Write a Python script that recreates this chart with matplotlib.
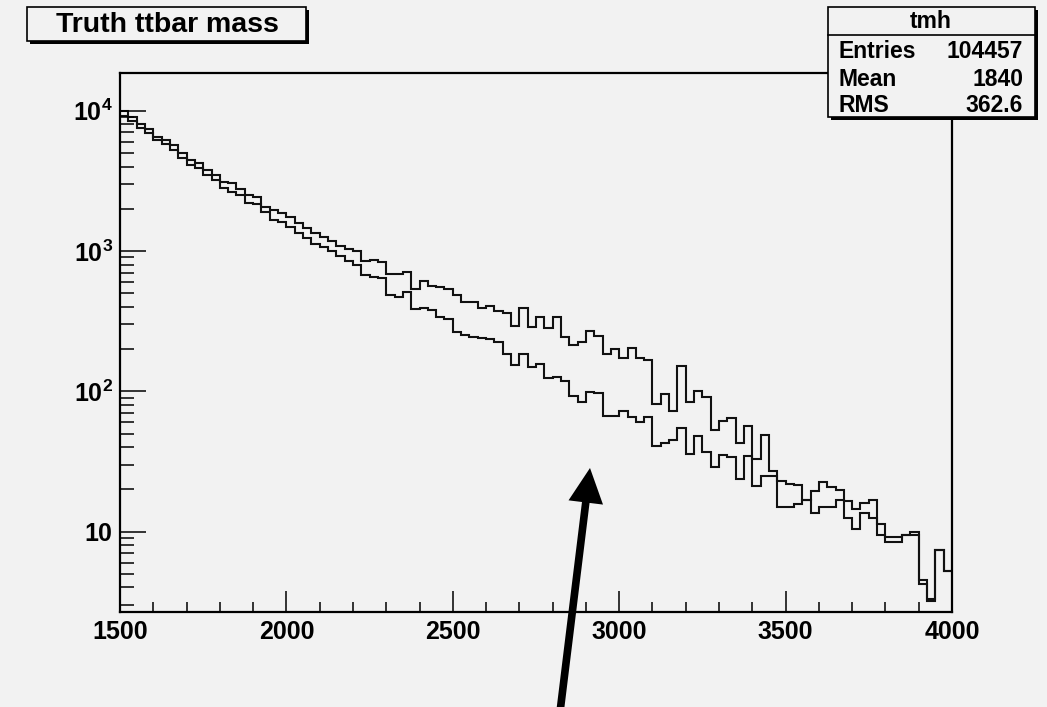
import numpy as np
import matplotlib
matplotlib.use("Agg")
import matplotlib.pyplot as plt
from matplotlib.patches import Rectangle, FancyArrowPatch
from matplotlib.ticker import FixedLocator, FixedFormatter, NullFormatter

# ---------------- data ----------------
x_min, x_max, n_bins = 1500, 4000, 100

counts_a = [9900, 8980, 8040, 7360, 6450, 6180, 5700, 4970, 4460, 4220,
            3780, 3480, 3120, 3035, 2770, 2505, 2415, 2070, 1960, 1877,
            1758, 1574, 1452, 1336, 1251, 1185, 1086, 1033, 1005, 849,
            863, 840, 686, 686, 713, 536, 611, 566, 551, 533,
            486, 431, 431, 395, 408, 374, 364, 292, 390, 289,
            337, 281, 337, 243, 214, 226, 269, 249, 184, 200,
            172, 205, 174, 167, 81, 96, 72, 152, 84, 100,
            91, 53, 61, 64, 43, 57, 33, 49, 27, 23,
            22, 21.5, 16.8, 19.5, 22.4, 20.9, 19.8, 16.5, 14.4, 15.9,
            16.8, 11.3, 9.2, 9.2, 9.5, 10.0, 4.5, 3.3, 7.4, 5.2]

counts_b = [9200, 8490, 7480, 6900, 6180, 5760, 5250, 4580, 4110, 3930,
            3480, 3210, 2830, 2650, 2505, 2210, 2165, 1907, 1665, 1620,
            1493, 1336, 1231, 1122, 1074, 1005, 921, 849, 795, 675,
            657, 639, 486, 473, 508, 384, 390, 380, 341, 326,
            266, 252, 245, 239, 235, 223, 184, 154, 184, 148,
            156, 124, 126, 119, 93, 84, 99, 97, 67, 67,
            72, 66, 60, 66, 41, 43, 45, 55, 36, 48,
            37, 29, 35, 34, 23.7, 34.6, 21.1, 24.9, 24.9, 14.9,
            14.9, 15.7, 16.8, 13.6, 14.9, 14.9, 16.8, 12.4, 10.5, 13.6,
            12.4, 9.5, 8.4, 8.4, 9.5, 9.5, 4.2, 3.2, 7.4, 5.2]

x_major = [1500, 2000, 2500, 3000, 3500, 4000]
x_major_labels = ["1500", "2000", "2500", "3000", "3500", "4000"]
y_major = [10, 100, 1000, 10000]
y_major_labels = [r"$\mathbf{10}$", r"$\mathbf{10^{2}}$", r"$\mathbf{10^{3}}$", r"$\mathbf{10^{4}}$"]

title_text = "Truth ttbar mass"
stats_name = "tmh"
stats_rows = [("Entries", "104457"), ("Mean", "1840"), ("RMS", "362.6")]

# ---------------- style ----------------
W, H = 1047, 707
BG = "#f2f2f2"
FONT = "Liberation Sans"
plt.rcParams["font.family"] = [FONT, "DejaVu Sans"]
plt.rcParams["font.weight"] = "bold"
plt.rcParams["mathtext.fontset"] = "custom"
plt.rcParams["mathtext.rm"] = "Liberation Sans:bold"
plt.rcParams["mathtext.bf"] = "Liberation Sans:bold"
plt.rcParams["mathtext.it"] = "Liberation Sans:bold"

fig = plt.figure(figsize=(W / 100, H / 100), dpi=100, facecolor=BG)

def fx(px):
    return px / W

def fy(py):
    return 1 - py / H

ax_l, ax_r, ax_t, ax_b = 120, 952, 73, 612
ax = fig.add_axes([fx(ax_l), fy(ax_b), fx(ax_r - ax_l), (ax_b - ax_t) / H])
ax.set_facecolor(BG)

edges = np.linspace(x_min, x_max, n_bins + 1)
ax.stairs(counts_a, edges, baseline=None, color="#111111", lw=1.5)
ax.stairs(counts_b, edges, baseline=None, color="#111111", lw=1.5)

ax.set_xlim(x_min, x_max)
ax.set_yscale("log")
ax.set_ylim(2.67, 18580)

for s in ax.spines.values():
    s.set_linewidth(1.6)
    s.set_color("black")

ax.xaxis.set_major_locator(FixedLocator(x_major))
ax.xaxis.set_major_formatter(FixedFormatter(x_major_labels))
ax.xaxis.set_minor_locator(FixedLocator(np.arange(1600, 4000, 100)))
ax.xaxis.set_minor_formatter(NullFormatter())

ax.yaxis.set_major_locator(FixedLocator(y_major))
ax.yaxis.set_major_formatter(FixedFormatter(y_major_labels))
yminor = [m * 10 ** d for d in range(0, 5) for m in range(2, 10)]
yminor = [v for v in yminor if 2.67 < v < 18580 and v not in y_major]
ax.yaxis.set_minor_locator(FixedLocator(yminor))
ax.yaxis.set_minor_formatter(NullFormatter())

ax.tick_params(axis="x", which="major", direction="in", length=15, width=1.1,
               labelsize=18, pad=6, top=False)
ax.tick_params(axis="x", which="minor", direction="in", length=7.5, width=1.1, top=False)
ax.tick_params(axis="y", which="major", direction="in", length=19, width=1.1,
               labelsize=18, pad=5, right=False)
ax.tick_params(axis="y", which="minor", direction="in", length=10, width=1.1, right=False)
for lab in ax.get_xticklabels() + ax.get_yticklabels():
    lab.set_fontweight("bold")

# ---------------- title box ----------------
def shadow_box(x0, y0, x1, y1, sh=3):
    fig.patches.append(Rectangle((fx(x0 + sh), fy(y1 + sh)), fx(x1 - x0), (y1 - y0) / H,
                                 transform=fig.transFigure, facecolor="black",
                                 edgecolor="none", zorder=10))
    fig.patches.append(Rectangle((fx(x0), fy(y1)), fx(x1 - x0), (y1 - y0) / H,
                                 transform=fig.transFigure, facecolor=BG,
                                 edgecolor="black", lw=1.2, zorder=11))

shadow_box(27, 7, 306, 41)
fig.text(fx(167), fy(24.5), title_text, ha="center", va="center",
         fontsize=20.5, fontweight="bold", zorder=12)

# ---------------- stats box ----------------
shadow_box(828, 7, 1035, 117)
fig.add_artist(plt.Line2D([fx(828), fx(1035)], [fy(35), fy(35)],
                          transform=fig.transFigure, color="black", lw=1.2, zorder=12))
fig.text(fx(931), fy(21), stats_name, ha="center", va="center",
         fontsize=16.5, fontweight="bold", zorder=12)
row_y = [51, 79, 106]
for (lab, val), yy in zip(stats_rows, row_y):
    fig.text(fx(838), fy(yy), lab, ha="left", va="center",
             fontsize=16.5, fontweight="bold", zorder=12)
    fig.text(fx(1023), fy(yy), val, ha="right", va="center",
             fontsize=16.5, fontweight="bold", zorder=12)

# ---------------- arrow ----------------
arr = FancyArrowPatch((fx(560), fy(712)), (fx(590), fy(468)),
                      transform=fig.transFigure,
                      arrowstyle="simple,head_length=25,head_width=25,tail_width=5.5",
                      mutation_scale=1, shrinkA=0, shrinkB=0,
                      facecolor="black", edgecolor="none", zorder=20)
fig.patches.append(arr)

fig.savefig("out.png", dpi=100, facecolor=BG)
